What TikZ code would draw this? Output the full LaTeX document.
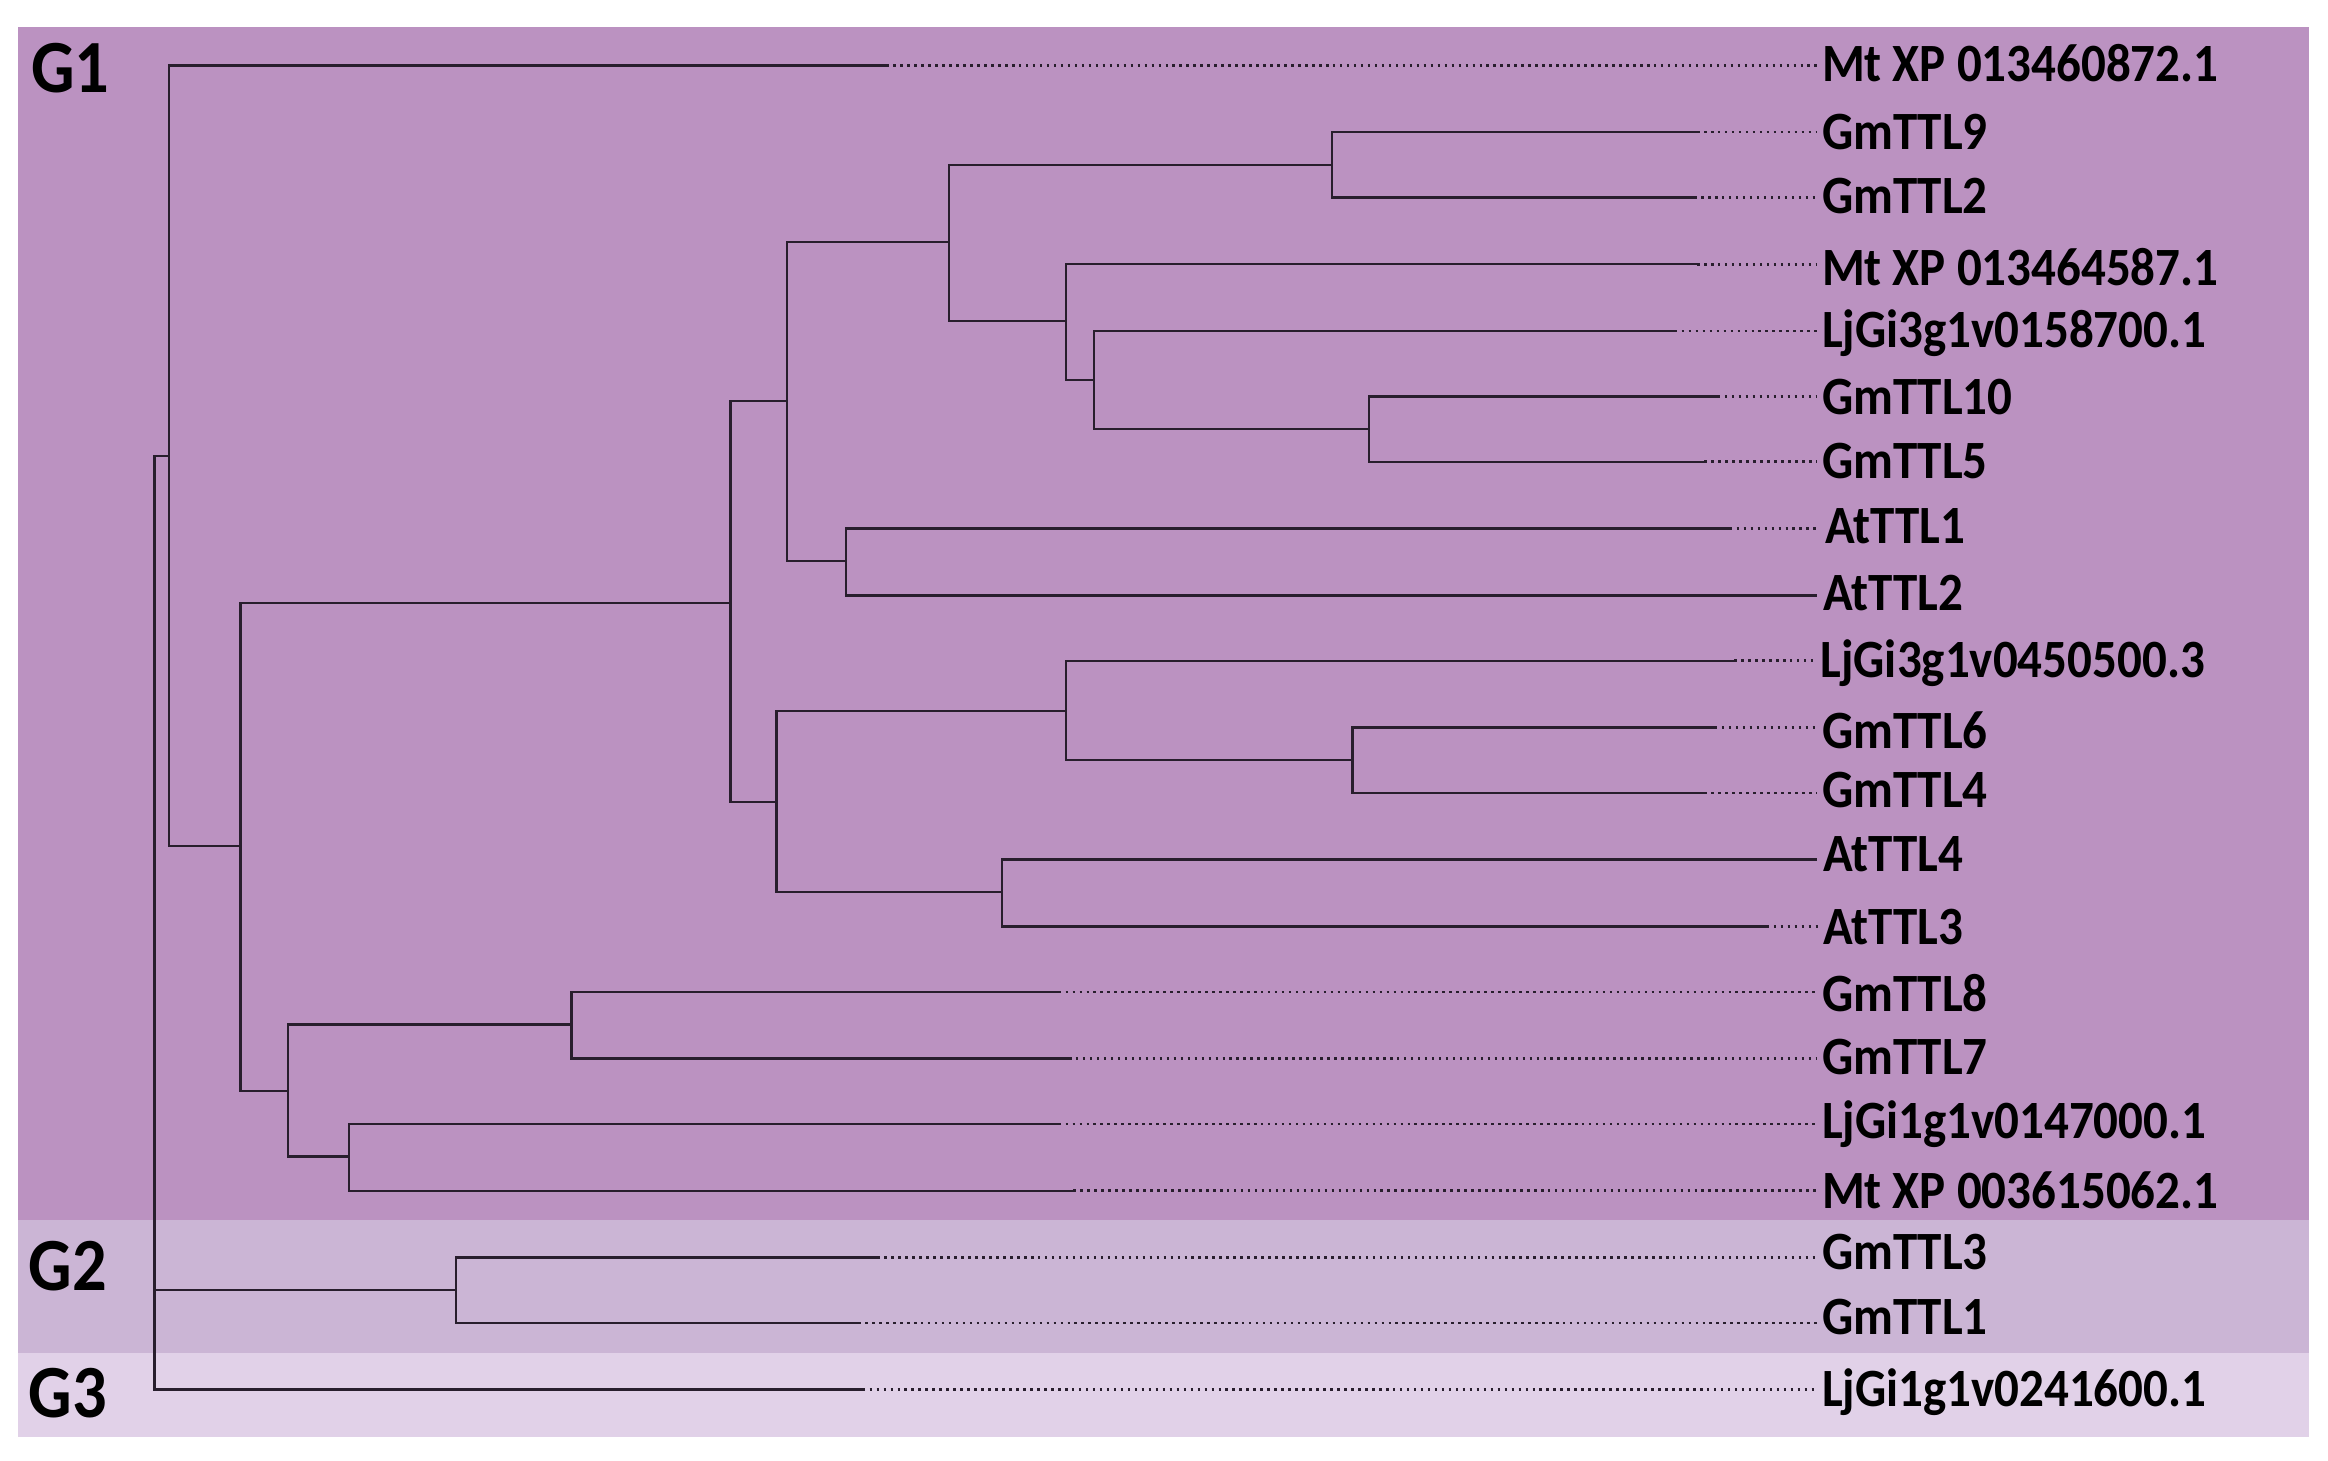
\documentclass[tikz,border=0pt]{standalone}
\usepackage{fontspec}
\setmainfont{Carlito}
\definecolor{gone}{RGB}{187,146,193}
\definecolor{gtwo}{RGB}{203,181,213}
\definecolor{gthree}{RGB}{225,209,232}
\definecolor{treeline}{RGB}{40,30,45}
\newcommand{\tall}[1]{\scalebox{1}[1.1]{#1}}
\begin{document}
\begin{tikzpicture}[x=1pt,y=-1pt,
  branch/.style={draw=treeline,line width=1.6pt},
  dotline/.style={draw=treeline,line width=1.7pt,dash pattern=on 1.7pt off 3pt,shorten >=3pt},
  tiplabel/.style={anchor=base west,inner sep=0pt,font=\bfseries\fontsize{33}{38}\selectfont},
  grouplabel/.style={anchor=base west,inner sep=0pt,font=\bfseries\fontsize{46}{52}\selectfont}]
\useasboundingbox (0,0) rectangle (1568,984);
% group panels
\fill[gone] (12,18) rectangle (1555,822);
\fill[gtwo] (12,822) rectangle (1555,911);
\fill[gthree] (12,911) rectangle (1555,968);
\node[grouplabel] (G1) at (21,62) {\tall{G1}};
\node[grouplabel] (G2) at (19,869) {\tall{G2}};
\node[grouplabel] (G3) at (19,955) {\tall{G3}};
% tip ends of solid branches
\coordinate (e1) at (597,44);
\coordinate (e2) at (1143,89);
\coordinate (e3) at (1141,133);
\coordinate (e4) at (1143,178);
\coordinate (e5) at (1128,223);
\coordinate (e6) at (1157,267);
\coordinate (e7) at (1148,311);
\coordinate (e8) at (1165,356);
\coordinate (e9) at (1224,401);
\coordinate (e10) at (1168,445);
\coordinate (e11) at (1155,490);
\coordinate (e12) at (1148,534);
\coordinate (e13) at (1224,579);
\coordinate (e14) at (1190,624);
\coordinate (e15) at (713,668);
\coordinate (e16) at (720,713);
\coordinate (e17) at (713,757);
\coordinate (e18) at (723,802);
\coordinate (e19) at (591,847);
\coordinate (e20) at (578,891);
\coordinate (e21) at (581,936);
% labels
\node[tiplabel] (t1) at (1227,55) {\tall{Mt XP 013460872.1}};
\node[tiplabel] (t2) at (1227,101) {\tall{GmTTL9}};
\node[tiplabel] (t3) at (1227,144) {\tall{GmTTL2}};
\node[tiplabel] (t4) at (1227,192) {\tall{Mt XP 013464587.1}};
\node[tiplabel] (t5) at (1227,234) {\tall{LjGi3g1v0158700.1}};
\node[tiplabel] (t6) at (1227,279) {\tall{GmTTL10}};
\node[tiplabel] (t7) at (1227,322) {\tall{GmTTL5}};
\node[tiplabel] (t8) at (1229,366) {\tall{AtTTL1}};
\node[tiplabel] (t9) at (1228,411) {\tall{AtTTL2}};
\node[tiplabel] (t10) at (1226,456) {\tall{LjGi3g1v0450500.3}};
\node[tiplabel] (t11) at (1227,504) {\tall{GmTTL6}};
\node[tiplabel] (t12) at (1227,544) {\tall{GmTTL4}};
\node[tiplabel] (t13) at (1228,587) {\tall{AtTTL4}};
\node[tiplabel] (t14) at (1228,636) {\tall{AtTTL3}};
\node[tiplabel] (t15) at (1227,681) {\tall{GmTTL8}};
\node[tiplabel] (t16) at (1227,724) {\tall{GmTTL7}};
\node[tiplabel] (t17) at (1227,767) {\tall{LjGi1g1v0147000.1}};
\node[tiplabel] (t18) at (1227,814) {\tall{Mt XP 003615062.1}};
\node[tiplabel] (t19) at (1227,855) {\tall{GmTTL3}};
\node[tiplabel] (t20) at (1227,899) {\tall{GmTTL1}};
\node[tiplabel] (t21) at (1227,947) {\tall{LjGi1g1v0241600.1}};
% internal nodes
\coordinate (na) at (897,111);
\coordinate (nb) at (922,289);
\coordinate (nc) at (737,256);
\coordinate (nd) at (718,216);
\coordinate (nf) at (639,163);
\coordinate (ng) at (570,378);
\coordinate (nh) at (530,270);
\coordinate (ni) at (911,512);
\coordinate (nj) at (718,479);
\coordinate (nk) at (675,601);
\coordinate (nl) at (523,540);
\coordinate (nm) at (492,406);
\coordinate (nn) at (385,690);
\coordinate (no) at (235,779);
\coordinate (np) at (194,735);
\coordinate (nq) at (162,570);
\coordinate (nr) at (114,307);
\coordinate (ns) at (307,869);
\coordinate (root) at (104,620);
% branches
\draw[branch] (na) |- (e2); \draw[branch] (na) |- (e3);
\draw[branch] (nb) |- (e6); \draw[branch] (nb) |- (e7);
\draw[branch] (nc) |- (e5); \draw[branch] (nc) |- (nb);
\draw[branch] (nd) |- (e4); \draw[branch] (nd) |- (nc);
\draw[branch] (nf) |- (na); \draw[branch] (nf) |- (nd);
\draw[branch] (ng) |- (e8); \draw[branch] (ng) |- (e9);
\draw[branch] (nh) |- (nf); \draw[branch] (nh) |- (ng);
\draw[branch] (ni) |- (e11); \draw[branch] (ni) |- (e12);
\draw[branch] (nj) |- (e10); \draw[branch] (nj) |- (ni);
\draw[branch] (nk) |- (e13); \draw[branch] (nk) |- (e14);
\draw[branch] (nl) |- (nj); \draw[branch] (nl) |- (nk);
\draw[branch] (nm) |- (nh); \draw[branch] (nm) |- (nl);
\draw[branch] (nn) |- (e15); \draw[branch] (nn) |- (e16);
\draw[branch] (no) |- (e17); \draw[branch] (no) |- (e18);
\draw[branch] (np) |- (nn); \draw[branch] (np) |- (no);
\draw[branch] (nq) |- (nm); \draw[branch] (nq) |- (np);
\draw[branch] (nr) |- (e1); \draw[branch] (nr) |- (nq);
\draw[branch] (ns) |- (e19); \draw[branch] (ns) |- (e20);
\draw[branch] (root) |- (nr); \draw[branch] (root) |- (ns); \draw[branch] (root) |- (e21);
% dotted leaders
\foreach \i in {1,2,3,4,5,6,7,8,10,11,12,14,15,16,17,18,19,20,21}{
  \draw[dotline] (e\i) -- (e\i -| t\i.west);
}
\end{tikzpicture}
\end{document}
